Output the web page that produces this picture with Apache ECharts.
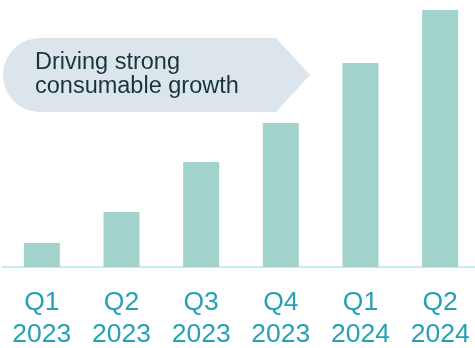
<!DOCTYPE html>
<html>
<head>
<meta charset="utf-8">
<script src="https://cdn.jsdelivr.net/npm/echarts@6/dist/echarts.min.js"></script>
<style>
html,body{margin:0;padding:0;background:#fff;}
#chart{width:475px;height:348px;}
</style>
</head>
<body>
<div id="chart"></div>
<script>
var categories = ['Q1\n2023', 'Q2\n2023', 'Q3\n2023', 'Q4\n2023', 'Q1\n2024', 'Q2\n2024'];
var values = [24, 55, 105, 144, 204, 257];
var calloutLines = ['Driving strong', 'consumable growth'];

var chart = echarts.init(document.getElementById('chart'), null, {renderer: 'canvas'});
chart.setOption({
  animation: false,
  grid: {left: 2, right: -5, top: 10, bottom: 81, containLabel: false, outerBoundsMode: 'none'},
  xAxis: {
    type: 'category',
    data: categories,
    axisLine: {show: true, lineStyle: {color: '#c6ebf1', width: 2}},
    axisTick: {show: false},
    axisLabel: {
      color: '#27a0b6',
      fontFamily: 'Liberation Sans, Arial, sans-serif',
      fontSize: 26.5,
      lineHeight: 32,
      margin: 20,
      interval: 0
    }
  },
  yAxis: {
    type: 'value',
    min: 0,
    max: 257,
    show: false,
    splitLine: {show: false}
  },
  series: [{
    type: 'bar',
    data: values,
    barWidth: 36,
    itemStyle: {color: '#a1d3cc'}
  }],
  graphic: [
    {
      type: 'rect',
      shape: {x: 3, y: 38, width: 274, height: 74, r: [37, 0, 0, 37]},
      style: {fill: '#dce5ec'},
      z: 10
    },
    {
      type: 'polygon',
      shape: {points: [[276, 38], [310, 75], [276, 112]]},
      style: {fill: '#dce5ec'},
      z: 10
    },
    {
      type: 'text',
      left: 35,
      top: 51,
      style: {
        text: calloutLines.join('\n'),
        fill: '#18353b',
        font: '23.5px "Liberation Sans", Arial, sans-serif',
        lineHeight: 24
      },
      z: 11
    }
  ]
});
</script>
</body>
</html>
